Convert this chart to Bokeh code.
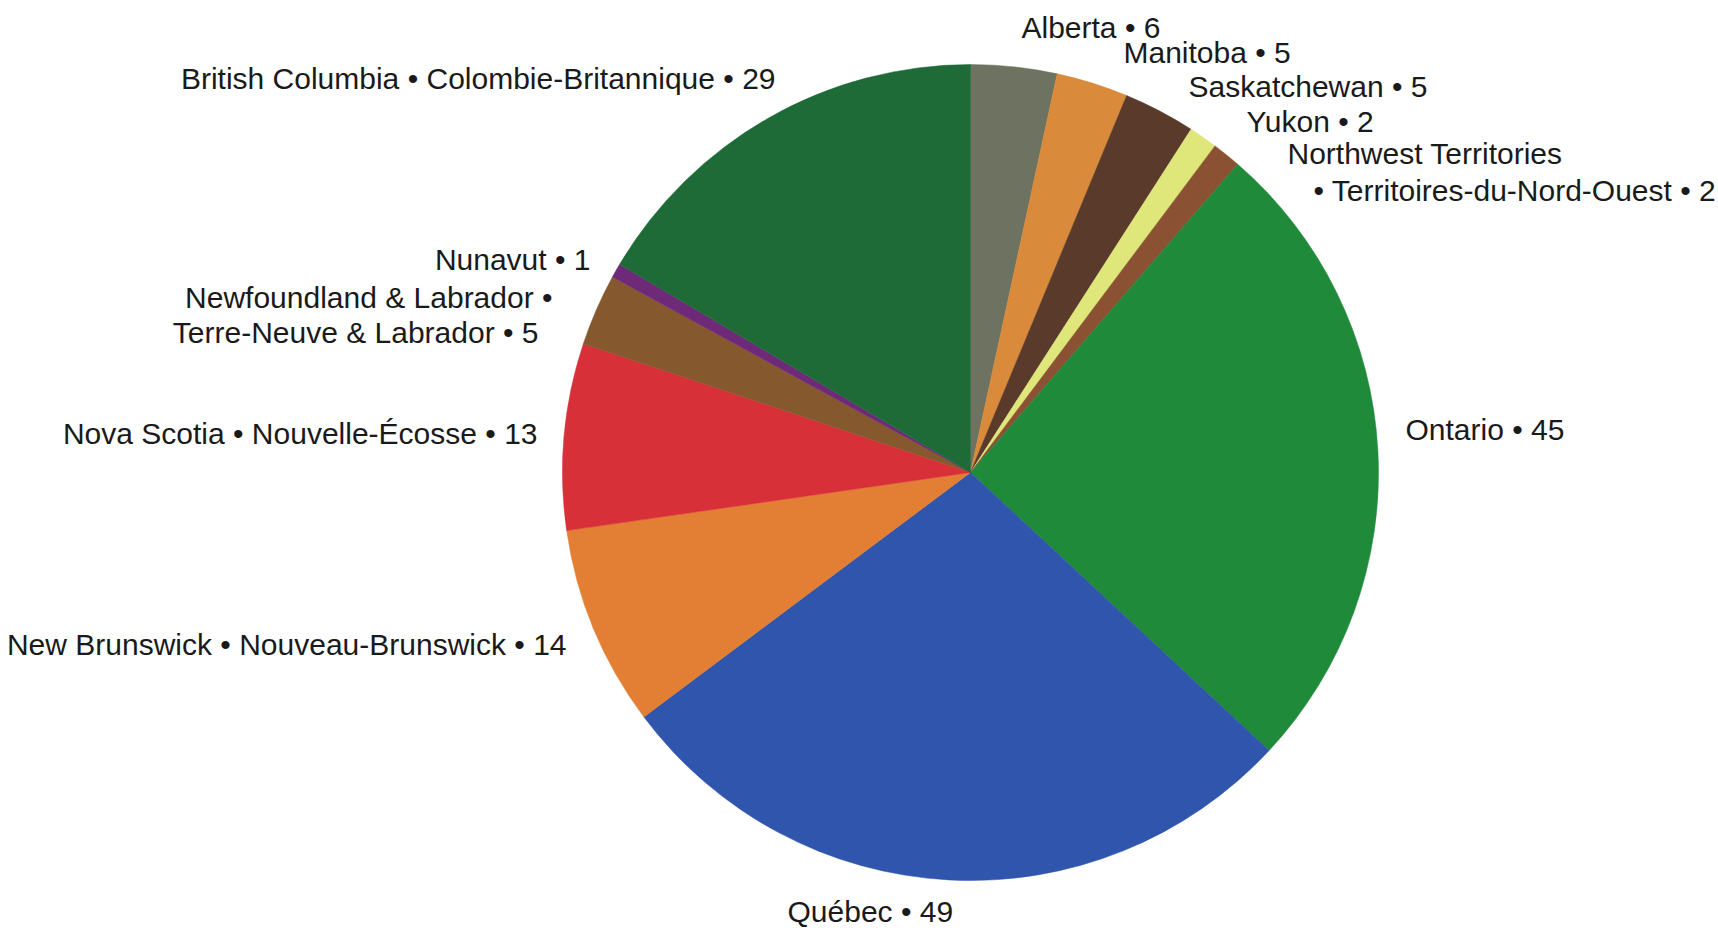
import math
from bokeh.plotting import figure
from bokeh.models import Range1d, ColumnDataSource
from bokeh.core.properties import value
from bokeh.embed import file_html
from bokeh.resources import INLINE

# ---- data ----
provinces = ["Alberta", "Manitoba", "Saskatchewan", "Yukon", "Northwest Territories",
             "Ontario", "Québec", "New Brunswick", "Nova Scotia",
             "Newfoundland & Labrador", "Nunavut", "British Columbia"]
counts = [6, 5, 5, 2, 2, 45, 49, 14, 13, 5, 1, 29]
colors = ["#6d7360", "#d98a3a", "#5a3a2a", "#dfe67a", "#8a5232",
          "#1f8a3a", "#2f55ad", "#e27f35", "#d83038",
          "#86582e", "#6e2a78", "#1e6b38"]

label_lines = [
    "Alberta • 6",
    "Manitoba • 5",
    "Saskatchewan • 5",
    "Yukon • 2",
    "Northwest Territories",
    "• Territoires-du-Nord-Ouest • 2",
    "Ontario • 45",
    "Québec • 49",
    "New Brunswick • Nouveau-Brunswick • 14",
    "Nova Scotia • Nouvelle-Écosse • 13",
    "Newfoundland & Labrador •",
    "Terre-Neuve & Labrador • 5",
    "Nunavut • 1",
    "British Columbia • Colombie-Britannique • 29",
]

# ---- layout (pixel coordinates, top-down) ----
W, H = 1718, 930
CX, CY, R = 970, 472, 408
label_x = [1021, 1123, 1188, 1246, 1287, 1313, 1405, 787, 566, 537, 552, 538, 590, 775]
label_y = [27, 52, 86, 121, 153, 190, 429, 911, 644, 433, 297, 332, 259, 78]
label_align = ["left"] * 7 + ["left"] + ["right"] * 6

total = sum(counts)
starts, ends = [], []
cum = 0
for c in counts:
    starts.append(math.pi / 2 - 2 * math.pi * cum / total)
    cum += c
    ends.append(math.pi / 2 - 2 * math.pi * cum / total)

p = figure(width=W, height=H, output_backend="svg", toolbar_location=None,
           x_range=Range1d(0, W), y_range=Range1d(0, H), min_border=0)
p.axis.visible = False
p.grid.visible = False
p.outline_line_color = None
p.background_fill_color = "white"
p.border_fill_color = "white"

src = ColumnDataSource(dict(start=starts, end=ends, color=colors, name=provinces))
p.wedge(x=CX, y=H - CY, radius=R, start_angle="start", end_angle="end",
        direction="clock", fill_color="color", line_color="color", line_width=0.5,
        source=src)

lsrc = ColumnDataSource(dict(x=label_x, y=[H - v for v in label_y], text=label_lines,
                             align=label_align))
p.text(x="x", y="y", text="text", text_align="align", text_baseline="middle",
       text_font=value("Liberation Sans"), text_font_size="30px", text_color="#1a1a1a",
       source=lsrc)

open("out.html", "w").write(file_html(p, INLINE))
